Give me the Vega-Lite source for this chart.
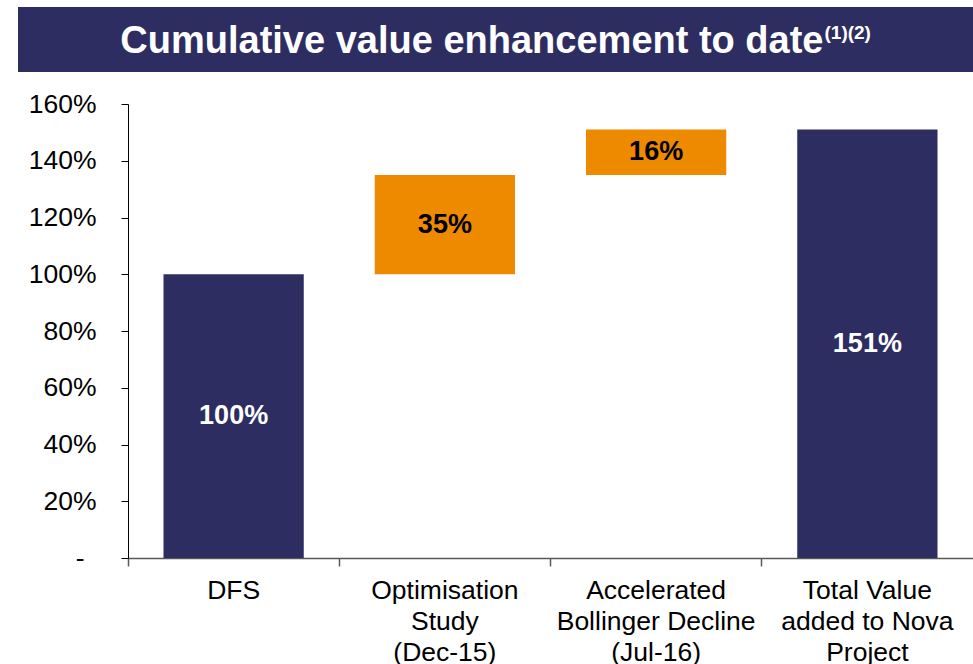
{
  "$schema": "https://vega.github.io/schema/vega-lite/v6.json",
  "padding": {"left": 18, "top": 7, "right": 0, "bottom": 0},
  "background": "white",
  "spacing": 19,
  "bounds": "full",
  "config": {"font": "Liberation Sans", "view": {"stroke": null}},
  "vconcat": [
    {
      "width": 955,
      "height": 65,
      "view": {"fill": "#2E2D62", "stroke": null},
      "data": {"values": [{"main": "Cumulative value enhancement to date", "sup": "(1)(2)"}]},
      "layer": [
        {
          "mark": {"type": "text", "align": "right", "baseline": "alphabetic", "dx": 328, "dy": 13, "fontSize": 38, "fontWeight": "bold", "color": "white", "font": "Liberation Sans"},
          "encoding": {"text": {"field": "main"}}
        },
        {
          "mark": {"type": "text", "align": "left", "baseline": "alphabetic", "dx": 329, "dy": -1, "fontSize": 19, "fontWeight": "bold", "color": "white", "font": "Liberation Sans"},
          "encoding": {"text": {"field": "sup"}}
        }
      ]
    },
    {
      "width": 955,
      "height": 454,
      "data": {"values": [
        {"cat": "DFS", "start": 0, "end": 100, "type": "total", "label": "100%"},
        {"cat": "Optimisation|Study|(Dec-15)", "start": 100, "end": 135, "type": "step", "label": "35%"},
        {"cat": "Accelerated|Bollinger Decline|(Jul-16)", "start": 135, "end": 151, "type": "step", "label": "16%"},
        {"cat": "Total Value|added to Nova|Project", "start": 0, "end": 151, "type": "total", "label": "151%"}
      ]},
      "transform": [{"calculate": "(datum.start + datum.end) / 2", "as": "mid"}],
      "encoding": {
        "x": {
          "field": "cat", "type": "nominal", "sort": null,
          "scale": {"range": [110, 955], "paddingInner": 0.336, "paddingOuter": 0.168},
          "axis": {
            "title": null, "labelAngle": 0, "labelExpr": "split(datum.label, '|')",
            "labelFontSize": 26.5, "labelColor": "#000000", "labelLineHeight": 31,
            "labelBaseline": "top", "labelPadding": 11, "labelLimit": 400,
            "bandPosition": -0.253, "tickSize": 8, "tickColor": "#595959", "domainColor": "#595959",
            "domainWidth": 1.5, "tickWidth": 1.5, "labelFont": "Liberation Sans"
          }
        }
      },
      "layer": [
        {
          "mark": {"type": "bar"},
          "encoding": {
            "y": {
              "field": "start", "type": "quantitative",
              "scale": {"domain": [0, 160], "nice": false},
              "axis": {
                "title": null, "offset": -110,
                "values": [0, 20, 40, 60, 80, 100, 120, 140, 160],
                "labelExpr": "datum.value == 0 ? '-' : datum.value + '%'",
                "labelFontSize": 26.5, "labelColor": "#000000",
                "labelPadding": {"condition": {"test": "datum.value == 0", "value": 37}, "value": 25},
                "tickSize": 7, "tickColor": "#000000", "domainColor": "#000000",
                "grid": false, "labelFont": "Liberation Sans"
              }
            },
            "y2": {"field": "end"},
            "color": {
              "field": "type", "type": "nominal", "legend": null,
              "scale": {"domain": ["total", "step"], "range": ["#2E2D62", "#EE8A00"]}
            }
          }
        },
        {
          "mark": {"type": "text", "fontSize": 27, "fontWeight": "bold", "baseline": "middle", "font": "Liberation Sans"},
          "encoding": {
            "y": {"field": "mid", "type": "quantitative"},
            "text": {"field": "label"},
            "color": {"condition": {"test": "datum.type == 'total'", "value": "#FFFFFF"}, "value": "#000000"}
          }
        }
      ]
    }
  ]
}
